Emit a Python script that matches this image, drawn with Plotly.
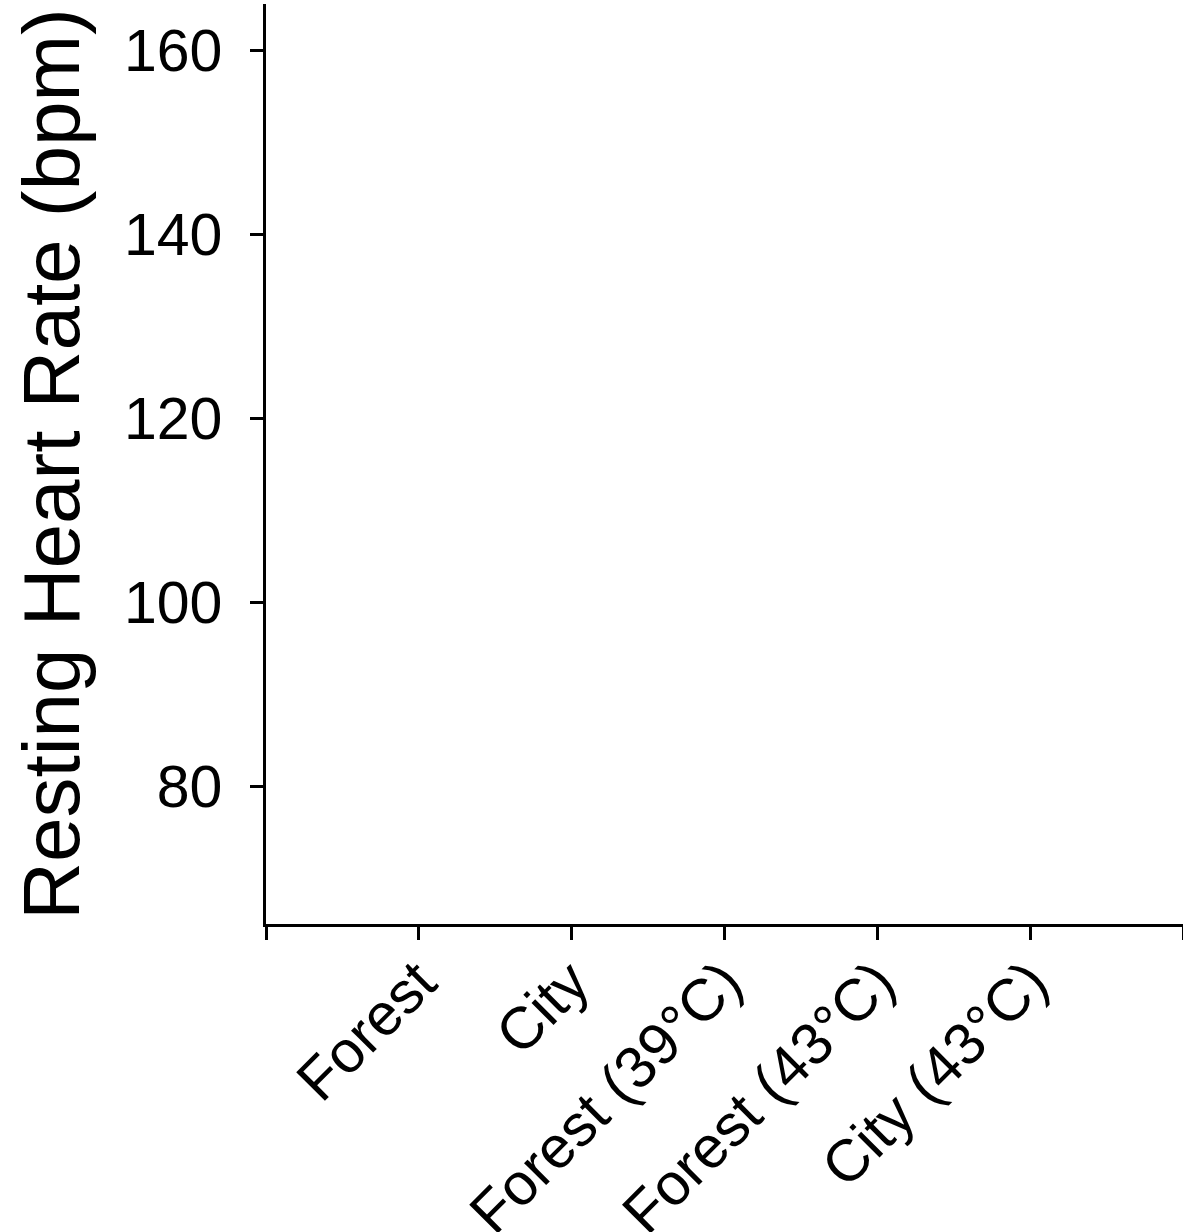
import plotly.graph_objects as go

categories = ["Forest", "City", "Forest (39°C)", "Forest (43°C)", "City (43°C)"]
heart_rate = [None, None, None, None, None]  # no data plotted in the reference
y_ticks = [80, 100, 120, 140, 160]
y_range = [65, 165]
y_title = "Resting Heart Rate (bpm)"

positions = list(range(1, len(categories) + 1))
tick_positions = list(range(0, len(categories) + 2))
tick_text = [""] + categories + [""]

fig = go.Figure()
fig.add_trace(go.Scatter(x=positions, y=heart_rate, mode="markers", showlegend=False,
                         hoverinfo="skip"))

FONT = "Liberation Sans, Arial, sans-serif"

fig.update_layout(
    width=1183, height=1232,
    margin=dict(l=266, r=0, t=4, b=308, pad=0),
    plot_bgcolor="white", paper_bgcolor="white",
    font=dict(family=FONT, color="black"),
    showlegend=False,
)
fig.update_xaxes(
    type="linear", range=[0, len(categories) + 1], automargin=False,
    tickmode="array", tickvals=tick_positions, ticktext=tick_text,
    tickangle=-45, ticks="outside", ticklen=13, tickwidth=2.5, tickcolor="black",
    showline=True, linewidth=2.5, linecolor="black",
    showgrid=False, zeroline=False,
    tickfont=dict(family=FONT, size=59, color="black"),
    ticklabelstandoff=-16,
)
fig.update_yaxes(
    range=y_range, tickmode="array", tickvals=y_ticks, automargin=False,
    ticks="outside", ticklen=13, tickwidth=2.5, tickcolor="black",
    showline=True, linewidth=2.5, linecolor="black",
    showgrid=False, zeroline=False,
    tickfont=dict(family=FONT, size=59, color="black"),
    ticklabelstandoff=16,
    title=dict(text=y_title, font=dict(family=FONT, size=80, color="black"), standoff=18),
)

fig.write_html(
    "out.html",
    config={"displayModeBar": False},
    post_script="document.body.style.margin='0';document.body.style.overflow='hidden';"
                "document.documentElement.style.overflow='hidden';",
)
